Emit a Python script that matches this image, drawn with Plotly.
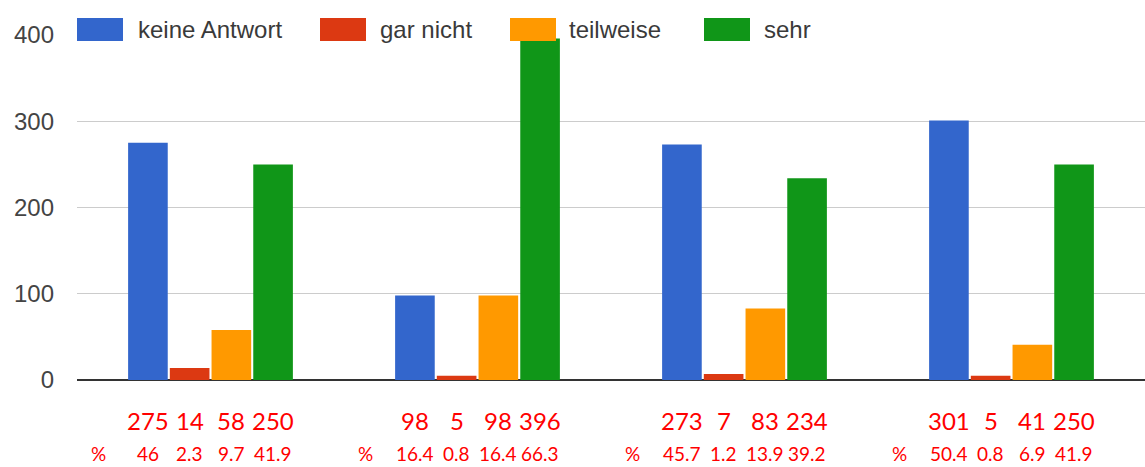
import plotly.graph_objects as go

categories = ["Frage 1", "Frage 2", "Frage 3", "Frage 4"]
series_names = ["keine Antwort", "gar nicht", "teilweise", "sehr"]
keine_antwort = [275, 98, 273, 301]
gar_nicht = [14, 5, 7, 5]
teilweise = [58, 98, 83, 41]
sehr = [250, 396, 234, 250]
pct_keine_antwort = ["46", "16.4", "45.7", "50.4"]
pct_gar_nicht = ["2.3", "0.8", "1.2", "0.8"]
pct_teilweise = ["9.7", "16.4", "13.9", "6.9"]
pct_sehr = ["41.9", "66.3", "39.2", "41.9"]
y_ticks = [0, 100, 200, 300, 400]

colors = ["#3366cc", "#dc3912", "#ff9900", "#109618"]
values = [keine_antwort, gar_nicht, teilweise, sehr]
pcts = [pct_keine_antwort, pct_gar_nicht, pct_teilweise, pct_sehr]

W, H = 1145, 467
ML, MR, MT, MB = 77, 0, 35, 87
BARGAP = 0.375
BARGROUPGAP = 0.05

fig = go.Figure()
for name, vals, col in zip(series_names, values, colors):
    fig.add_trace(go.Bar(
        x=list(range(len(categories))), y=vals, name=name,
        marker=dict(color=col, line=dict(width=0)),
        showlegend=False, hoverinfo="name+y",
    ))

pw = W - ML - MR
ph = H - MT - MB

def px_x(px):
    return (px - ML) / pw

def px_y(py):
    return (H - MB - py) / ph

annotations = []
shapes = []
nser = len(series_names)
slot = (1 - BARGAP) / nser
for gi in range(len(categories)):
    for si in range(nser):
        xc = gi - (1 - BARGAP) / 2 + slot * (si + 0.5)
        annotations.append(dict(
            x=xc, xref="x", y=px_y(420), yref="paper", yanchor="middle",
            text=str(values[si][gi]), showarrow=False,
            font=dict(family="Lato, Noto Sans, sans-serif", size=24, color="#ff0000"),
        ))
        annotations.append(dict(
            x=xc, xref="x", y=px_y(453), yref="paper", yanchor="middle",
            text=pcts[si][gi], showarrow=False,
            font=dict(family="Lato, Noto Sans, sans-serif", size=19, color="#ff0000"),
        ))
    annotations.append(dict(
        x=gi - (1 - BARGAP) / 2, xref="x", xshift=-29,
        y=px_y(453), yref="paper", yanchor="middle",
        text="%", showarrow=False,
        font=dict(family="Lato, Noto Sans, sans-serif", size=19, color="#ff0000"),
    ))

# custom legend
legend_swatch_x = [77, 320, 510, 704]
legend_text_x = [137, 379, 568, 763]
for name, col, sx, tx in zip(series_names, colors, legend_swatch_x, legend_text_x):
    shapes.append(dict(
        type="rect", xref="paper", yref="paper",
        x0=px_x(sx), x1=px_x(sx + 46), y0=px_y(41), y1=px_y(18),
        fillcolor=col, line=dict(width=0), layer="above",
    ))
    annotations.append(dict(
        x=px_x(tx), xref="paper", xanchor="left", y=px_y(30), yref="paper",
        yanchor="middle", text=name, showarrow=False, bgcolor="#ffffff",
        borderpad=0,
        font=dict(family="Liberation Sans, Arial, sans-serif", size=24, color="#3a3a3a"),
    ))

fig.update_layout(
    width=W, height=H,
    margin=dict(l=ML, r=MR, t=MT, b=MB, pad=0),
    paper_bgcolor="#ffffff", plot_bgcolor="#ffffff",
    barmode="group", bargap=BARGAP, bargroupgap=BARGROUPGAP,
    xaxis=dict(range=[-0.5, len(categories) - 0.5], showticklabels=False,
               showgrid=False, zeroline=False, showline=False, ticks=""),
    yaxis=dict(range=[0, 400], tickvals=y_ticks, showgrid=True, gridcolor="#cccccc",
               gridwidth=1, zeroline=True, zerolinecolor="#333333", zerolinewidth=2,
               showline=False, ticks="", ticklabelstandoff=22,
               tickfont=dict(family="Liberation Sans, Arial, sans-serif", size=24, color="#444444")),
    annotations=annotations, shapes=shapes,
)

fig.write_html("out.html", config={"displayModeBar": False},
               post_script="document.body.style.margin='0px';")
